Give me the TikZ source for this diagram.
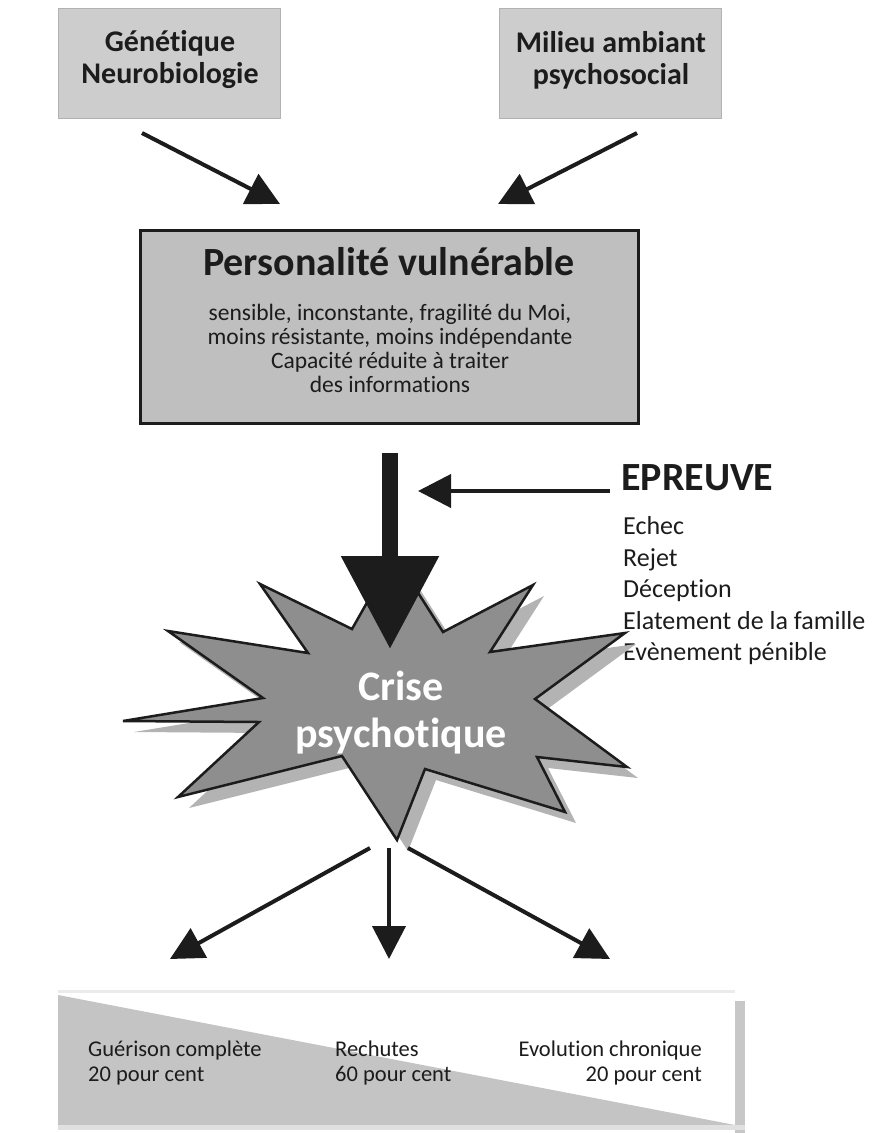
\documentclass[tikz,border=0pt]{standalone}
\usepackage{fontspec}
\setmainfont[Ligatures=NoCommon]{Carlito}
\usetikzlibrary{arrows.meta}

\definecolor{boxgray}{HTML}{CDCDCD}
\definecolor{persogray}{HTML}{BFBFBF}
\definecolor{stargray}{HTML}{8E8E8E}
\definecolor{shadowgray}{HTML}{B3B3B3}
\definecolor{inkblack}{HTML}{1C1C1C}
\definecolor{wedgegray}{HTML}{C4C4C4}

\tikzset{
	topbox/.style={fill=boxgray, draw=black!30, line width=1pt, minimum width=222pt, minimum height=110pt, inner sep=0pt},
	toptext/.style={align=center, text=inkblack, font=\fontsize{30}{32}\selectfont\bfseries},
	arr/.style={line width=4pt, draw=inkblack, -{Triangle[length=33pt,width=33pt]}},
	bigarr/.style={line width=16pt, draw=inkblack, -{Triangle[length=93pt,width=94pt]}},
	outtext/.style={text=inkblack, font=\fontsize{22.5}{25}\selectfont, inner sep=0pt}
}

\begin{document}
\begin{tikzpicture}[x=1pt, y=-1pt]
			%%%%% START %%%%%
			\useasboundingbox (0,0) rectangle (895,1133);
			
			% causes
			\node[topbox] (gen) at (169,63) {};
			\node[toptext] (gentxt) at (170,60) {Génétique\\Neurobiologie};
			\node[topbox] (mil) at (610,63) {};
			\node[toptext] (miltxt) at (611,60) {Milieu ambiant\\psychosocial};
			
			\coordinate (genout) at (142,133);
			\coordinate (genin) at (280,204);
			\coordinate (milout) at (637,133);
			\coordinate (milin) at (498,204);
			\draw[arr] (genout) -- (genin);
			\draw[arr] (milout) -- (milin);
			
			% personality
			\node[fill=persogray, draw=inkblack, line width=3pt, minimum width=498pt, minimum height=193pt] (perso) at (389,326.5) {};
			\node[text=inkblack, font=\fontsize{40}{44}\selectfont\bfseries] (persotitle) at (389,262) {Personalité vulnérable};
			\node[align=center, text=inkblack, font=\fontsize{23.5}{24}\selectfont] (persotxt) at (390,348) {sensible, inconstante, fragilité du Moi,\\moins résistante, moins indépendante\\Capacité réduite à traiter\\des informations};
			
			% trial
			\node[anchor=west, text=inkblack, inner sep=0pt, font=\fontsize{40}{44}\selectfont\bfseries] (epreuve) at (621,478) {EPREUVE};
			\node[anchor=west, align=left, text=inkblack, inner sep=0pt, font=\fontsize{26}{31.5}\selectfont] (events) at (623,591) {Echec\\Rejet\\Déception\\Elatement de la famille\\Evènement pénible};
			\coordinate (epout) at (610,491);
			\coordinate (epin) at (418,491);
			\draw[arr] (epout) -- (epin);
			
			% crisis
			\draw[fill=shadowgray, draw=none, shift={(11,11)}] (394,555) -- (443,632) -- (533,585) -- (490,652) -- (625,633) -- (535,699) -- (627,767) -- (537,757) -- (565,812) -- (425,769) -- (397,840) -- (342,756) -- (178,797) -- (259,722) -- (123,721) -- (263,698) -- (168,631) -- (308,653) -- (260,584) -- (352,629) -- cycle;
			\draw[fill=stargray, draw=inkblack, line width=2.5pt, line join=miter] (394,555) -- (443,632) -- (533,585) -- (490,652) -- (625,633) -- (535,699) -- (627,767) -- (537,757) -- (565,812) -- (425,769) -- (397,840) -- (342,756) -- (178,797) -- (259,722) -- (123,721) -- (263,698) -- (168,631) -- (308,653) -- (260,584) -- (352,629) -- cycle;
			\node[align=center, text=white, font=\fontsize{42}{47}\selectfont\bfseries] (crise) at (401,713) {Crise\\psychotique};
			
			\coordinate (persoout) at (390,453);
			\coordinate (criseinn) at (390,649);
			\draw[bigarr] (persoout) -- (criseinn);
			
			% outcomes
			\coordinate (crisel) at (370,848);
			\coordinate (crisem) at (389,848);
			\coordinate (criser) at (408,848);
			\coordinate (guer) at (170,959);
			\coordinate (rech) at (389,959);
			\coordinate (evol) at (610,959);
			\draw[arr] (crisel) -- (guer);
			\draw[arr] (crisem) -- (rech);
			\draw[arr] (criser) -- (evol);
			
			\fill[black!22] (735,1001) rectangle (745,1133);
			\fill[black!8] (58,990) rectangle (735,993);
			\fill[white] (58,993) rectangle (735,1125);
			\fill[wedgegray] (58,995) -- (735,1125) -- (58,1125) -- cycle;
			\fill[black!12] (58,1125) rectangle (745,1130);
			
			\node[outtext, anchor=west, align=left] (guertxt) at (88,1063) {Guérison complète\\20 pour cent};
			\node[outtext, anchor=west, align=left] (rechtxt) at (335,1063) {Rechutes\\60 pour cent};
			\node[outtext, anchor=east, align=right] (evoltxt) at (702,1063) {Evolution chronique\\20 pour cent};
			
			%%%%% END %%%%%
\end{tikzpicture}
\end{document}
